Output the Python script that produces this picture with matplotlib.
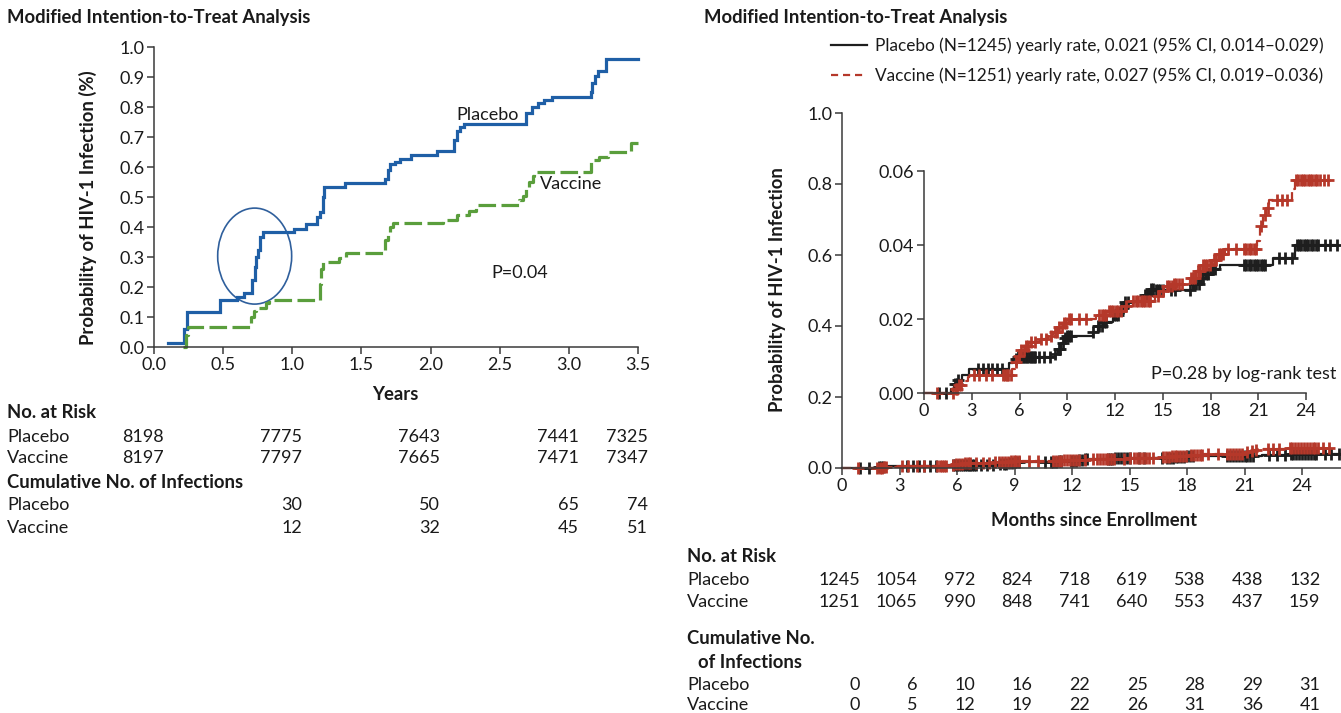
import numpy as np
import matplotlib.pyplot as plt
from matplotlib.patches import Ellipse
from matplotlib.lines import Line2D
from matplotlib.transforms import blended_transform_factory

plt.rcParams['font.family'] = ['Lato', 'DejaVu Sans']

W, H = 1341, 713

# ---- left panel: years vs probability (%) ----
pla_years = [0.10, 0.22, 0.24, 0.48, 0.60, 0.65, 0.71, 0.73, 0.74, 0.755, 0.77, 0.79,
             1.01, 1.10, 1.18, 1.20, 1.22, 1.23, 1.38, 1.67, 1.69, 1.71, 1.74, 1.78,
             1.86, 2.05, 2.17, 2.19, 2.21, 2.24, 2.28, 2.69, 2.73, 2.78, 2.82, 2.88,
             2.94, 3.16, 3.17, 3.19, 3.21, 3.23, 3.27, 3.50]
pla_prob = [0.014, 0.06, 0.117, 0.157, 0.168, 0.18, 0.223, 0.268, 0.30, 0.323, 0.368, 0.382,
            0.393, 0.41, 0.434, 0.45, 0.50, 0.535, 0.547, 0.56, 0.59, 0.61, 0.618, 0.627,
            0.64, 0.655, 0.69, 0.72, 0.735, 0.745, 0.745, 0.78, 0.80, 0.815, 0.825, 0.835,
            0.835, 0.85, 0.88, 0.905, 0.92, 0.92, 0.96, 0.96]
vac_years = [0.21, 0.23, 0.246, 0.70, 0.72, 0.74, 0.81, 0.83, 1.20, 1.21, 1.22, 1.34,
             1.39, 1.67, 1.69, 1.71, 1.73, 2.09, 2.19, 2.28, 2.33, 2.64, 2.67, 2.69,
             2.71, 2.74, 2.75, 3.16, 3.22, 3.28, 3.45, 3.50]
vac_prob = [0.0, 0.04, 0.066, 0.10, 0.12, 0.13, 0.147, 0.157, 0.21, 0.26, 0.284, 0.296,
            0.313, 0.357, 0.384, 0.40, 0.413, 0.425, 0.44, 0.455, 0.475, 0.49, 0.505, 0.53,
            0.55, 0.57, 0.585, 0.625, 0.635, 0.65, 0.68, 0.68]

left_risk_years = [0, 1, 2, 3, 3.5]
left_risk_pla = [8198, 7775, 7643, 7441, 7325]
left_risk_vac = [8197, 7797, 7665, 7471, 7347]
left_inf_years = [1, 2, 3, 3.5]
left_inf_pla = [30, 50, 65, 74]
left_inf_vac = [12, 32, 45, 51]

# ---- right panel: months vs probability ----
pla_months = [0, 1.7, 1.9, 2.1, 2.4, 2.8, 5.35, 5.6, 5.9, 8.2, 8.4, 8.6, 8.8, 9.0,
              10.6, 10.9, 11.3, 11.9, 12.3, 12.6, 13.9, 14.2, 14.5, 16.9, 17.3, 17.7,
              18.0, 18.6, 21.9, 23.3, 26.0]
pla_rate = [0, 0.0012, 0.0025, 0.0035, 0.005, 0.0064, 0.0080, 0.0092, 0.0098, 0.0105,
            0.0120, 0.0135, 0.0148, 0.0155, 0.0165, 0.0180, 0.0192, 0.0210, 0.0230,
            0.0245, 0.0265, 0.0280, 0.0278, 0.0295, 0.0310, 0.0322, 0.0336, 0.0347,
            0.0365, 0.0400, 0.0400]
pla_cens = [0.95, 1.4, 1.95, 2.05, 2.15, 3.4, 3.7, 4.0, 4.3, 4.6, 4.9, 5.8, 5.9, 6.0,
            6.1, 6.2, 6.3, 6.4, 6.5, 6.6, 6.7, 6.8, 6.9, 7.0, 7.25, 7.55, 7.9, 8.25, 8.45,
            8.55, 8.7, 8.85, 9.0, 9.1, 9.25, 10.6, 10.9, 11.0, 11.15, 11.3, 11.45, 11.95,
            12.05, 12.2, 12.35, 12.5, 12.65, 12.8, 13.9, 14.0, 14.1, 14.25, 14.4, 14.55,
            14.7, 14.85, 15.0, 15.5, 15.75, 16.7, 16.95, 17.1, 17.25, 17.4, 17.55, 17.7,
            17.85, 18.0, 18.15, 18.3, 20.1, 20.25, 20.4, 20.55, 20.7, 20.85, 21.0, 21.15,
            21.3, 21.45, 22.3, 22.7, 23.1, 23.4, 23.55, 23.7, 23.85, 24.0, 24.15, 24.3,
            24.45, 24.6, 24.75, 25.2, 25.5, 25.95]
vac_months = [0, 2.0, 2.15, 2.4, 2.75, 3.1, 5.5, 5.7, 5.9, 6.1, 6.4, 6.7, 7.3, 7.8,
              8.1, 8.4, 8.7, 9.1, 10.8, 11.6, 12.6, 13.1, 14.5, 14.8, 15.2, 15.7, 16.7,
              17.1, 17.5, 18.1, 18.5, 18.9, 20.9, 21.1, 21.3, 21.5, 21.7, 23.1, 23.3,
              25.5]
vac_rate = [0, 0.0010, 0.0022, 0.0033, 0.0042, 0.0048, 0.0065, 0.0085, 0.0100, 0.0115,
            0.0128, 0.0137, 0.0145, 0.0155, 0.0165, 0.0178, 0.0190, 0.0200, 0.0210,
            0.0222, 0.0235, 0.0250, 0.0262, 0.0275, 0.0288, 0.0295, 0.0310, 0.0330,
            0.0345, 0.0360, 0.0375, 0.0390, 0.0410, 0.0450, 0.0480, 0.0500, 0.0522,
            0.0550, 0.0577, 0.0577]
vac_cens = [0.84, 1.85, 2.0, 2.1, 2.2, 2.3, 3.15, 3.45, 3.9, 4.3, 4.95, 5.1, 5.2, 5.3,
            5.45, 5.8, 5.95, 6.1, 6.25, 6.4, 6.55, 6.7, 7.0, 7.35, 7.65, 8.0, 8.2, 8.35,
            8.5, 8.65, 8.8, 8.95, 9.1, 9.25, 9.75, 10.2, 11.0, 11.15, 11.3, 11.45, 11.6,
            11.75, 11.9, 12.05, 12.2, 12.35, 12.7, 13.1, 13.3, 13.45, 13.6, 13.75, 13.9,
            14.05, 14.2, 14.7, 15.0, 15.25, 15.4, 15.55, 15.7, 15.85, 16.0, 16.2, 16.75,
            16.9, 17.05, 17.2, 17.35, 17.5, 17.65, 17.8, 17.95, 18.2, 18.35, 18.5, 18.65,
            18.8, 19.1, 19.6, 20.1, 20.25, 20.4, 20.55, 20.7, 20.85, 21.15, 21.4, 21.6,
            22.2, 22.5, 22.8, 23.35, 23.5, 23.65, 23.8, 23.95, 24.1, 24.25, 24.4, 24.55,
            24.7, 24.85, 25.1, 25.4]

right_months = [0, 3, 6, 9, 12, 15, 18, 21, 24]
right_risk_pla = [1245, 1054, 972, 824, 718, 619, 538, 438, 132]
right_risk_vac = [1251, 1065, 990, 848, 741, 640, 553, 437, 159]
right_inf_pla = [0, 6, 10, 16, 22, 25, 28, 29, 31]
right_inf_vac = [0, 5, 12, 19, 22, 26, 31, 36, 41]

BLUE = '#1f5fa6'
GREEN = '#5a9e3c'
BLACK = '#1e1e1e'
RED = '#b5382a'
AXC = '#3a3a3a'
TXT = '#1a1a1a'

FS = 13      # tick labels and table text
FSB = 13.3   # bold headings


def frac(x, y):
    return x / W, 1 - y / H


def step_at(t, p, c):
    idx = np.searchsorted(np.asarray(t), np.asarray(c), side='right') - 1
    return np.asarray(p)[idx]


def style_axes(ax):
    for s in ['top', 'right']:
        ax.spines[s].set_visible(False)
    for s in ['left', 'bottom']:
        ax.spines[s].set_color(AXC)
        ax.spines[s].set_linewidth(1.1)
    ax.tick_params(direction='out', length=5, width=1.1, color=AXC,
                   labelsize=FS, labelcolor=TXT, pad=2)


fig = plt.figure(figsize=(W / 100, H / 100), dpi=100)

# ---------------- left panel ----------------
ax1 = fig.add_axes([154 / W, 1 - 347 / H, 484 / W, 300 / H])
style_axes(ax1)
ax1.set_xlim(0, 3.5)
ax1.set_ylim(0, 1.0)
ax1.set_xticks(np.arange(0, 3.51, 0.5))
ax1.set_yticks(np.arange(0, 1.01, 0.1))
ax1.set_xticklabels(['%.1f' % v for v in np.arange(0, 3.51, 0.5)])
ax1.set_yticklabels(['%.1f' % v for v in np.arange(0, 1.01, 0.1)])
ax1.step(pla_years, pla_prob, where='post', color=BLUE, lw=2.3, clip_on=False,
         solid_joinstyle='miter')
ax1.step(vac_years, vac_prob, where='post', color=GREEN, lw=2.3, clip_on=False,
         dashes=(5.5, 1.7))
ax1.text(2.19, 0.772, 'Placebo', fontsize=FS, color=TXT, va='center')
ax1.text(2.79, 0.545, 'Vaccine', fontsize=FS, color=TXT, va='center')
ax1.text(2.44, 0.247, 'P=0.04', fontsize=FS, color=TXT, va='center')
ax1.add_patch(Ellipse((0.728, 0.303), 0.535, 0.32, fill=False, ec='#2f5f9c', lw=1.2))

fig.text(*frac(7, 18), 'Modified Intention-to-Treat Analysis', fontsize=FSB,
         fontweight='bold', color=TXT, va='center')
fig.text(*frac(88, 208), 'Probability of HIV-1 Infection (%)', fontsize=FSB,
         fontweight='bold', color=TXT, rotation=90, ha='center', va='center')
fig.text(*frac(395, 395), 'Years', fontsize=FSB, fontweight='bold', color=TXT,
         ha='center', va='center')

tr1 = blended_transform_factory(ax1.transData, fig.transFigure)
fig.text(*frac(7, 413), 'No. at Risk', fontsize=FSB, fontweight='bold', color=TXT, va='center')
fig.text(*frac(7, 482), 'Cumulative No. of Infections', fontsize=FSB, fontweight='bold',
         color=TXT, va='center')
for label, y in [('Placebo', 437), ('Vaccine', 458), ('Placebo', 505), ('Vaccine', 528)]:
    fig.text(*frac(7, y), label, fontsize=FS, color=TXT, va='center')
for yr, a, b in zip(left_risk_years, left_risk_pla, left_risk_vac):
    fig.text(yr + 0.07, 1 - 437 / H, str(a), transform=tr1, fontsize=FS, color=TXT,
             ha='right', va='center')
    fig.text(yr + 0.07, 1 - 458 / H, str(b), transform=tr1, fontsize=FS, color=TXT,
             ha='right', va='center')
for yr, a, b in zip(left_inf_years, left_inf_pla, left_inf_vac):
    fig.text(yr + 0.07, 1 - 505 / H, str(a), transform=tr1, fontsize=FS, color=TXT,
             ha='right', va='center')
    fig.text(yr + 0.07, 1 - 528 / H, str(b), transform=tr1, fontsize=FS, color=TXT,
             ha='right', va='center')

# ---------------- right panel ----------------
ax2 = fig.add_axes([842 / W, 1 - 468 / H, (W - 842) / W, 355 / H])
style_axes(ax2)
ax2.set_xlim(0, (W - 842) / 19.17)
ax2.set_ylim(0, 1.0)
ax2.set_xticks(right_months)
ax2.set_yticks(np.arange(0, 1.01, 0.2))
ax2.set_yticklabels(['%.1f' % v for v in np.arange(0, 1.01, 0.2)])

ax3 = fig.add_axes([924 / W, 1 - 393 / H, (W - 924) / W, 222 / H])
style_axes(ax3)
ax3.patch.set_alpha(0)
ax3.set_xlim(0, (W - 924) / 15.92)
ax3.set_ylim(0, 0.06)
ax3.spines['bottom'].set_bounds(0, 24)
ax3.set_xticks(right_months)
ax3.set_yticks([0, 0.02, 0.04, 0.06])
ax3.set_yticklabels(['0.00', '0.02', '0.04', '0.06'])

for ax in (ax2, ax3):
    ax.step(pla_months, pla_rate, where='post', color=BLACK, lw=1.6, clip_on=False)
    ax.plot(pla_cens, step_at(pla_months, pla_rate, pla_cens), ls='none', marker='+',
            ms=9, mew=2.0, color=BLACK, clip_on=False)
    ax.step(vac_months, vac_rate, where='post', color=RED, lw=1.6, clip_on=False,
            dashes=(4, 2))
    ax.plot(vac_cens, step_at(vac_months, vac_rate, vac_cens), ls='none', marker='+',
            ms=9, mew=2.0, color=RED, clip_on=False)

ax3.text(25.9, 0.0051, 'P=0.28 by log-rank test', fontsize=FS, color=TXT,
         ha='right', va='center')

fig.text(*frac(704, 18), 'Modified Intention-to-Treat Analysis', fontsize=FSB,
         fontweight='bold', color=TXT, va='center')
fig.text(*frac(777, 290), 'Probability of HIV-1 Infection', fontsize=FSB,
         fontweight='bold', color=TXT, rotation=90, ha='center', va='center')
fig.text(*frac(1094, 521), 'Months since Enrollment', fontsize=FSB, fontweight='bold',
         color=TXT, ha='center', va='center')

handles = [Line2D([], [], color=BLACK, lw=1.6),
           Line2D([], [], color=RED, lw=1.6, dashes=(3.2, 2.2))]
labels = ['Placebo (N=1245) yearly rate, 0.021 (95% CI, 0.014\u20130.029)',
          'Vaccine (N=1251) yearly rate, 0.027 (95% CI, 0.019\u20130.036)']
fig.legend(handles, labels, loc='upper left', bbox_to_anchor=frac(831, 37), frameon=False,
           fontsize=12.4, handlelength=2.1, handletextpad=0.45, borderpad=0, borderaxespad=0,
           labelspacing=0.78, labelcolor=TXT)

tr2 = blended_transform_factory(ax2.transData, fig.transFigure)
fig.text(*frac(687, 557), 'No. at Risk', fontsize=FSB, fontweight='bold', color=TXT, va='center')
fig.text(*frac(687, 638), 'Cumulative No.', fontsize=FSB, fontweight='bold', color=TXT,
         va='center')
fig.text(*frac(698, 662), 'of Infections', fontsize=FSB, fontweight='bold', color=TXT,
         va='center')
for label, y in [('Placebo', 580), ('Vaccine', 602), ('Placebo', 685), ('Vaccine', 705)]:
    fig.text(*frac(687, y), label, fontsize=FS, color=TXT, va='center')
for m, a, b, c, d in zip(right_months, right_risk_pla, right_risk_vac, right_inf_pla, right_inf_vac):
    for val, y in [(a, 580), (b, 602), (c, 685), (d, 705)]:
        fig.text(m + 0.95, 1 - y / H, str(val), transform=tr2, fontsize=FS, color=TXT,
                 ha='right', va='center')

fig.savefig('out.png', dpi=100)
